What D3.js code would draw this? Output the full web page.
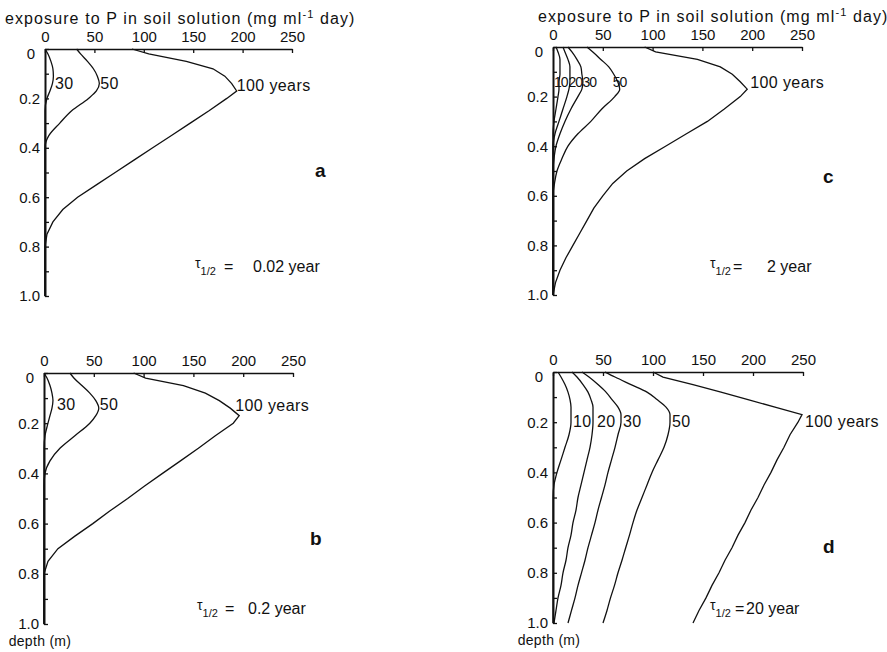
<!DOCTYPE html>
<html>
<head>
<meta charset="utf-8">
<script src="https://cdnjs.cloudflare.com/ajax/libs/d3/7.8.5/d3.min.js"></script>
<style>
    body { margin: 0; background: #fff; }
    svg text { font-family: "Liberation Sans", Arial, sans-serif; fill: #111; }
    .axis text { font-size: 15px; }
    .axis line { stroke: #111; stroke-width: 1.3; }
    .x-axis path { stroke: #111; stroke-width: 1.5; }
    .y-axis path { stroke: #111; stroke-width: 2; }
    .profile { fill: none; stroke: #111; stroke-width: 1.3; }
    .curve-label { font-size: 16px; letter-spacing: 0.4px; }
    .curve-label.tight { font-size: 14px; letter-spacing: -1px; }
    .axis-title { font-size: 16px; letter-spacing: 1.1px; }
    .panel-letter { font-size: 19px; font-weight: bold; }
    .tau-label { font-size: 16px; }
</style>
</head>
<body>
<div id="chart"></div>
<script>

// depth below surface (m), shared by every profile
var depthGrid = [0, 0.02, 0.05, 0.08, 0.11, 0.14, 0.17, 0.2, 0.25, 0.3, 0.35, 0.4,
    0.45, 0.5, 0.55, 0.6, 0.65, 0.7, 0.75, 0.8, 0.85, 0.9, 0.95, 1.0];

var exposureTicks = [0, 50, 100, 150, 200, 250];
var depthTicks = [0, 0.1, 0.2, 0.3, 0.4, 0.5, 0.6, 0.7, 0.8, 0.9, 1.0];
var depthTickLabels = ['0', '', '0.2', '', '0.4', '', '0.6', '', '0.8', '', '1.0'];

// a : tau 1/2 = 0.02 year
var aNames = ['30', '50', '100 years'];
var a30 = [0, 3, 6, 8, 8.5, 7.5, 5, 2, 0, 0, 0, 0, 0, 0, 0, 0, 0, 0, 0, 0, 0, 0, 0, 0];
var a50 = [32, 36, 43, 49, 53, 55, 52, 44, 27, 15, 4, 0, 0, 0, 0, 0, 0, 0, 0, 0, 0, 0, 0, 0];
var a100 = [88, 105, 143, 170, 182, 189, 194, 184, 166, 147, 128, 109, 90, 71, 52, 33, 18, 8, 2, 0, 0, 0, 0, 0];
var aLabelValue = [10, 56, 194];
var aLabelDepth = [0.14, 0.14, 0.146];

// b : tau 1/2 = 0.2 year
var bNames = ['30', '50', '100 years'];
var b30 = [0, 3, 6, 8, 9, 8, 6, 4, 1, 0, 0, 0, 0, 0, 0, 0, 0, 0, 0, 0, 0, 0, 0, 0];
var b50 = [26, 30, 38, 46, 52, 55, 52, 46, 31, 16, 6, 1, 0, 0, 0, 0, 0, 0, 0, 0, 0, 0, 0, 0];
var b100 = [90, 102, 140, 162, 176, 187, 196, 190, 172, 155, 137, 119, 101, 84, 66, 49, 31, 14, 4, 0, 0, 0, 0, 0];
var bLabelValue = [13, 56, 192];
var bLabelDepth = [0.127, 0.127, 0.13];

// c : tau 1/2 = 2 year
var cNames = ['10', '20', '30', '50', '100 years'];
var c10 = [3, 5, 7, 7, 7, 6, 6, 5, 3, 1, 0, 0, 0, 0, 0, 0, 0, 0, 0, 0, 0, 0, 0, 0];
var c20 = [10, 12, 15, 17, 17, 17, 16, 14, 10, 6, 2, 0, 0, 0, 0, 0, 0, 0, 0, 0, 0, 0, 0, 0];
var c30 = [15, 19, 24, 28, 29, 30, 29, 25, 18, 12, 7, 3, 1, 0, 0, 0, 0, 0, 0, 0, 0, 0, 0, 0];
var c50 = [34, 40, 48, 56, 61, 65, 67, 62, 49, 38, 25, 15, 9, 4, 1.5, 0, 0, 0, 0, 0, 0, 0, 0, 0];
var c100 = [92, 103, 145, 168, 180, 188, 195, 188, 172, 155, 134, 113, 92, 74, 60, 50, 41, 34, 27, 20, 13, 7, 2.5, 0];
var cLabelValue = [1, 15.5, 29.5, 60, 198];
var cLabelDepth = [0.141, 0.141, 0.141, 0.141, 0.141];

// d : tau 1/2 = 20 year
var dNames = ['10', '20', '30', '50', '100 years'];
var d10 = [5, 8, 12, 15, 17, 18, 18, 18, 16, 12, 8, 4, 1, 0, 0, 0, 0, 0, 0, 0, 0, 0, 0, 0];
var d20 = [19, 24, 30, 35, 38, 40, 40, 40, 39, 37, 34, 31, 28, 25, 23, 20, 18, 15, 13, 10, 8, 5, 3, 1];
var d30 = [29, 36, 45, 53, 59, 65, 68, 68, 65, 62, 58.5, 55, 52, 48.5, 45, 42, 38.5, 35, 32, 28.5, 25, 22, 18.5, 15];
var d50 = [52, 62, 78, 94, 104, 113, 117, 117, 115, 111, 105, 99, 94, 89, 84, 80, 76.5, 72.7, 69, 65, 61.5, 57.5, 54, 50];
var d100 = [100, 110, 140, 168, 195, 222, 249, 245, 237, 231, 224, 218, 211, 205, 198, 192, 185, 179, 172, 166, 159, 153, 146, 140];
var dLabelValue = [20, 44, 70, 119, 252];
var dLabelDepth = [0.195, 0.195, 0.195, 0.195, 0.195];


/**
 * DepthPanel
 * @param _parentElement -- svg selection to draw into
 * @param _config        -- series, labels and box of one panel
 */
DepthPanel = function(_parentElement, _config) {
    this.parentElement = _parentElement;
    this.config = _config;

    this.initVisualization();
}

DepthPanel.prototype.initVisualization = function() {
    var vis = this;
    var c = vis.config;

    vis.svg = vis.parentElement.append('g')
        .attr('class', 'panel panel-' + c.letter);

    vis.x = d3.scaleLinear()
        .domain([0, 250])
        .range([c.left, c.right]);

    vis.y = d3.scaleLinear()
        .domain([0, 1])
        .range([c.top, c.bottom]);

    // profiles first, axes drawn over them
    c.series.forEach(function(values, i) {
        var points = depthGrid.map(function(depth, j) {
            return { depth: depth, value: values[j] };
        });

        var isLong = c.names[i].indexOf('years') >= 0;

        var line = d3.line()
            .x(function(d) { return vis.x(d.value); })
            .y(function(d) { return vis.y(d.depth); })
            .curve(isLong ? d3.curveLinear : d3.curveMonotoneY);

        vis.svg.append('path')
            .datum(points)
            .attr('class', 'profile')
            .attr('d', line);

        vis.svg.append('text')
            .attr('class', 'curve-label' + (c.tightLabels && !isLong ? ' tight' : ''))
            .attr('x', vis.x(c.labelValue[i]))
            .attr('y', vis.y(c.labelDepth[i]))
            .attr('dy', '0.35em')
            .text(c.names[i]);
    });

    // Axes
    vis.xAxis = d3.axisTop(vis.x)
        .tickValues(exposureTicks)
        .tickSizeInner(-4)
        .tickSizeOuter(0)
        .tickPadding(7);

    vis.yAxis = d3.axisLeft(vis.y)
        .tickValues(depthTicks)
        .tickFormat(function(d, i) { return depthTickLabels[i]; })
        .tickSizeInner(-4)
        .tickSizeOuter(0)
        .tickPadding(5);

    vis.svg.append('g')
        .attr('class', 'axis x-axis')
        .attr('transform', 'translate(0,' + c.top + ')')
        .call(vis.xAxis);

    var yAxisG = vis.svg.append('g')
        .attr('class', 'axis y-axis')
        .attr('transform', 'translate(' + c.left + ',0)')
        .call(vis.yAxis);

    // the depth "0" sits a little lower and further out
    yAxisG.selectAll('.tick text')
        .filter(function(d) { return d === 0; })
        .attr('x', -10)
        .attr('dy', '0.6em');

    if (c.title) {
        var title = vis.svg.append('text')
            .attr('class', 'axis-title')
            .attr('x', c.titleX)
            .attr('y', c.top - 25);
        title.append('tspan').text('exposure to P in soil solution (mg ml');
        title.append('tspan').attr('dy', -6).style('font-size', '11px').text('-1');
        title.append('tspan').attr('dy', 6).text(' day)');
    }

    if (c.depthTitle) {
        vis.svg.append('text')
            .attr('class', 'axis-title')
            .attr('x', c.left - 4)
            .attr('y', c.bottom + 22)
            .attr('text-anchor', 'middle')
            .style('letter-spacing', '0.3px')
            .style('font-size', '14px')
            .text('depth (m)');
    }

    vis.svg.append('text')
        .attr('class', 'panel-letter')
        .attr('x', c.left + c.letterDx)
        .attr('y', c.top + c.letterDy)
        .text(c.letter);

    // tau 1/2 annotation
    var tx = c.left + c.tauDx;
    var tau = vis.svg.append('text')
        .attr('class', 'tau-label')
        .attr('x', tx)
        .attr('y', c.top + c.tauDy);
    tau.append('tspan').style('font-size', '14px').attr('dy', -4).text('τ');
    tau.append('tspan').style('font-size', '11px').attr('dy', 7).text('1/2');
    tau.append('tspan').attr('x', tx + c.eqDx).attr('dy', -3).text('=');
    tau.append('tspan').attr('x', tx + c.valueDx).text(c.tau);
}


var svg = d3.select('#chart')
    .append('svg')
    .attr('width', 887)
    .attr('height', 652);

new DepthPanel(svg, {
    letter: 'a', series: [a30, a50, a100], names: aNames,
    labelValue: aLabelValue, labelDepth: aLabelDepth,
    left: 45, right: 292, top: 49, bottom: 296,
    title: true, titleX: 5, depthTitle: false,
    letterDx: 270, letterDy: 128,
    tau: '0.02 year', tauDx: 150, tauDy: 223, eqDx: 29, valueDx: 58
});

new DepthPanel(svg, {
    letter: 'b', series: [b30, b50, b100], names: bNames,
    labelValue: bLabelValue, labelDepth: bLabelDepth,
    left: 44, right: 293, top: 373, bottom: 624,
    title: false, depthTitle: true,
    letterDx: 266, letterDy: 172,
    tau: '0.2 year', tauDx: 153, tauDy: 241, eqDx: 28, valueDx: 51
});

new DepthPanel(svg, {
    letter: 'c', series: [c10, c20, c30, c50, c100], names: cNames,
    labelValue: cLabelValue, labelDepth: cLabelDepth, tightLabels: true,
    left: 553, right: 802, top: 47, bottom: 295,
    title: true, titleX: 538, depthTitle: false,
    letterDx: 270, letterDy: 136,
    tau: '2 year', tauDx: 157, tauDy: 225, eqDx: 23, valueDx: 57
});

new DepthPanel(svg, {
    letter: 'd', series: [d10, d20, d30, d50, d100], names: dNames,
    labelValue: dLabelValue, labelDepth: dLabelDepth,
    left: 553, right: 803, top: 372, bottom: 623,
    title: false, depthTitle: true,
    letterDx: 270, letterDy: 181,
    tau: '20 year', tauDx: 157, tauDy: 242, eqDx: 25, valueDx: 36
});

</script>
</body>
</html>
